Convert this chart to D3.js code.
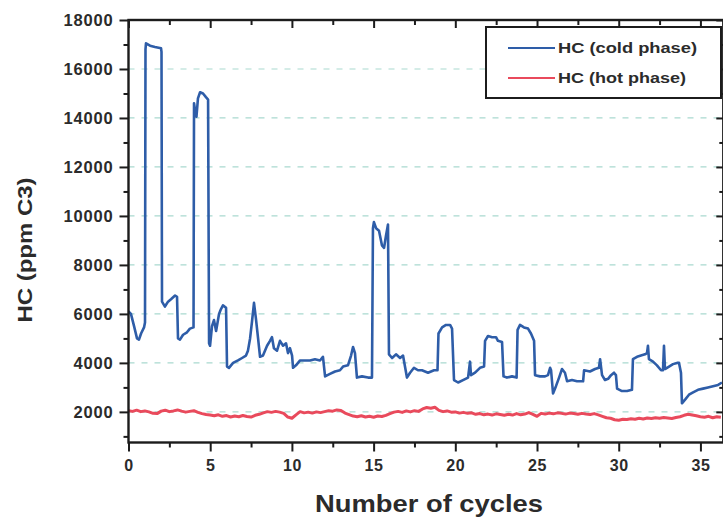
<!DOCTYPE html>
<html><head><meta charset="utf-8">
<script src="https://cdn.jsdelivr.net/npm/d3@7"></script>
<style>body{margin:0;background:#fff;} svg{display:block;}</style>
</head><body>
<svg id="chart" width="723" height="523"></svg>
<script>
// ---- data ----
const coldCycles = [0,0.15,0.34,0.52,0.64,0.77,0.95,1.01,1.04,1.07,1.32,1.62,1.99,2.02,2.05,2.23,2.42,2.60,2.85,2.97,
3.03,3.15,3.34,3.58,3.76,3.98,4.01,4.10,4.16,4.25,4.38,4.56,4.74,4.87,4.93,4.99,5.11,5.23,5.36,5.54,
5.66,5.78,5.97,6.03,6.15,6.40,6.70,6.95,7.19,7.31,7.44,7.56,7.68,7.80,7.93,8.05,8.23,8.48,8.66,8.78,
8.90,9.09,9.27,9.46,9.64,9.76,9.88,10.01,10.07,10.25,10.50,10.80,11.11,11.41,11.72,11.90,12.03,12.33,12.64,12.94,
13.13,13.43,13.62,13.74,13.86,13.98,14.29,14.66,14.90,14.96,15.02,15.15,15.33,15.51,15.64,15.76,15.88,15.94,16.13,16.37,
16.62,16.80,17.04,17.23,17.47,17.72,17.96,18.33,18.70,18.91,18.97,19.19,19.43,19.68,19.80,19.92,20.17,20.47,20.78,20.90,
20.96,21.21,21.51,21.76,21.82,22.00,22.25,22.49,22.61,22.86,22.95,23.16,23.47,23.75,23.81,23.96,24.20,24.45,24.63,24.82,
24.88,25.18,25.49,25.67,25.80,25.86,25.98,26.16,26.35,26.53,26.71,26.84,27.14,27.45,27.82,27.88,28.24,28.55,28.79,28.86,
28.98,29.16,29.35,29.53,29.71,29.83,29.90,30.20,30.51,30.81,30.87,31.12,31.36,31.61,31.73,31.79,31.85,32.10,32.34,32.59,
32.71,32.77,32.83,33.08,33.32,33.57,33.69,33.81,33.87,34.06,34.30,34.55,34.85,35.16,35.46,35.77,36.08,36.32];
const coldHC = [6100,6000,5500,5000,4950,5200,5450,5650,16800,17050,16950,16900,16850,16700,6500,6300,6500,6600,6750,6700,
5000,4950,5150,5250,5400,5450,14600,14200,14050,14800,15050,15000,14850,14750,4800,4700,5500,5750,5300,6000,
6200,6350,6250,3850,3800,4000,4100,4200,4300,4500,5000,5700,6450,5800,5000,4250,4300,4700,4900,5050,
4600,4500,4900,4700,4800,4400,4600,4300,3800,3900,4100,4100,4100,4150,4100,4250,3450,3550,3650,3700,
3850,3900,4300,4650,4400,3400,3450,3400,3400,9500,9750,9500,9400,8800,8700,9200,9650,4350,4200,4350,
4200,4300,3400,3600,3800,3700,3700,3600,3700,3700,5200,5450,5550,5550,5400,3300,3200,3300,3400,4050,
3500,3600,3800,3850,4900,5100,5050,5050,4900,4850,3450,3400,3450,3400,5350,5550,5450,5400,5200,4900,
3500,3450,3450,3500,3800,3700,2750,3050,3400,3750,3600,3250,3300,3250,3250,3700,3650,3750,3800,4150,
3500,3300,3350,3500,3600,3500,2950,2850,2850,2900,4150,4250,4300,4350,4400,4700,4150,4050,3900,3700,
3700,4700,3750,3850,3950,4000,4000,3600,2350,2500,2700,2800,2900,2950,3000,3050,3100,3200];

const hotStart = 0, hotStep = 0.25;   // sampling grid of the hot-phase trace
const hotHC = [2050,2020,2070,2010,2040,2000,1940,1930,2030,2070,2010,2040,2080,2030,1990,2020,2050,1980,1930,1890,
1870,1840,1880,1820,1850,1790,1830,1800,1850,1810,1790,1860,1900,1960,2010,1980,2020,1990,1940,1790,
1740,1880,2010,1960,1990,1950,2000,1970,2010,2050,2030,2080,2060,1950,1890,1830,1800,1840,1790,1820,
1780,1830,1810,1860,1930,1990,2020,1980,2040,2000,2050,2020,2120,2180,2150,2190,2060,2010,2040,1990,
2000,1950,1980,1940,1960,1900,1930,1880,1910,1870,1920,1890,1860,1900,1870,1930,1880,1910,1970,1900,
1820,1940,1910,1950,1920,1960,1940,1910,1950,1930,1900,1940,1910,1890,1930,1880,1820,1760,1740,1680,
1660,1700,1690,1720,1700,1740,1710,1750,1730,1760,1740,1770,1750,1730,1770,1800,1860,1900,1870,1840,
1800,1780,1820,1760,1800,1780];

const yMajorTicks = [2000,4000,6000,8000,10000,12000,14000,16000,18000];
const yMinorTicks = [1000,3000,5000,7000,9000,11000,13000,15000,17000];
const xMajorTicks = [0,5,10,15,20,25,30,35];
const xMinorTicks = [2.5,7.5,12.5,17.5,22.5,27.5,32.5];
const gridValues = [2000,4000,6000,8000,10000,12000,14000,16000];
const seriesNames = ["HC (cold phase)","HC (hot phase)"];
const seriesColors = ["#2e5da8","#e94a5c"];
const xTitle = "Number of cycles";
const yTitle = "HC (ppm C3)";

// ---- drawing ----
const FONT = "'Liberation Sans', Arial, Helvetica, sans-serif";
const TXT = "#2b2b2b";
const svg = d3.select("#chart");
const x = d3.scaleLinear().domain([0, 36.4]).range([128.5, 723.3]);
const y = d3.scaleLinear().domain([750, 18000]).range([442.5, 20]);
const [x0, x1] = x.range(), [yb, yt] = y.range();

svg.append("defs").append("clipPath").attr("id","clip")
  .append("rect").attr("x", x0).attr("y", yt).attr("width", x1 - x0).attr("height", yb - yt);

// grid
svg.append("g").selectAll("line").data(gridValues).join("line")
  .attr("x1", x0).attr("x2", x1).attr("y1", d => y(d)).attr("y2", d => y(d))
  .attr("stroke", "#a9d9cf").attr("stroke-width", 1.2).attr("stroke-dasharray", "6,7");

// series
const coldData = coldCycles.map((c, i) => [c, coldHC[i]]);
const hotData = hotHC.map((v, i) => [hotStart + i * hotStep, v]);
const line = d3.line().x(d => x(d[0])).y(d => y(d[1]));
const plot = svg.append("g").attr("clip-path", "url(#clip)");
plot.append("path").datum(hotData).attr("d", line).attr("fill", "none")
  .attr("stroke", seriesColors[1]).attr("stroke-width", 3).attr("stroke-linejoin", "round");
plot.append("path").datum(coldData).attr("d", line).attr("fill", "none")
  .attr("stroke", seriesColors[0]).attr("stroke-width", 2.6).attr("stroke-linejoin", "round");

// axes
function styleAxis(g, labels) {
  g.select(".domain").remove();
  g.selectAll(".tick line").attr("stroke", "#1c1c1c").attr("stroke-width", 2);
  if (!labels) g.selectAll(".tick text").remove();
  else g.selectAll(".tick text").attr("fill", TXT).attr("font-family", FONT)
    .attr("font-weight", "bold");
}
svg.append("g").attr("transform", `translate(${x0},0)`)
  .call(d3.axisLeft(y).tickValues(yMajorTicks).tickSize(9).tickPadding(6).tickFormat(d3.format("d")))
  .call(g => styleAxis(g, true))
  .call(g => g.selectAll(".tick text").attr("font-size", 16.5).attr("letter-spacing", "0.8px").attr("dy", "0.36em"));
svg.append("g").attr("transform", `translate(${x0},0)`)
  .call(d3.axisLeft(y).tickValues(yMinorTicks).tickSize(5)).call(g => styleAxis(g, false));
svg.append("g").attr("transform", `translate(${x1},0)`)
  .call(d3.axisRight(y).tickValues(yMajorTicks).tickSize(-7)).call(g => styleAxis(g, false));
svg.append("g").attr("transform", `translate(${x1},0)`)
  .call(d3.axisRight(y).tickValues(yMinorTicks).tickSize(-4)).call(g => styleAxis(g, false));

svg.append("g").attr("transform", `translate(0,${yb})`)
  .call(d3.axisBottom(x).tickValues(xMajorTicks).tickSize(9).tickPadding(8).tickFormat(d3.format("d")))
  .call(g => styleAxis(g, true))
  .call(g => g.selectAll(".tick text").attr("font-size", 16).attr("letter-spacing", "0.6px"));
svg.append("g").attr("transform", `translate(0,${yb})`)
  .call(d3.axisBottom(x).tickValues(xMinorTicks).tickSize(5)).call(g => styleAxis(g, false));
svg.append("g").attr("transform", `translate(0,${yt})`)
  .call(d3.axisTop(x).tickValues(xMajorTicks).tickSize(-8)).call(g => styleAxis(g, false));
svg.append("g").attr("transform", `translate(0,${yt})`)
  .call(d3.axisTop(x).tickValues(xMinorTicks).tickSize(-5)).call(g => styleAxis(g, false));

// frame
svg.append("rect").attr("x", x0).attr("y", yt).attr("width", x1 - x0).attr("height", yb - yt)
  .attr("fill", "none").attr("stroke", "#1c1c1c").attr("stroke-width", 2.4);

// titles
svg.append("text").attr("x", 429).attr("y", 512).attr("text-anchor", "middle")
  .attr("font-family", FONT).attr("font-weight", "bold").attr("font-size", 24).attr("fill", TXT)
  .attr("textLength", 228).attr("lengthAdjust", "spacingAndGlyphs").text(xTitle);
svg.append("text").attr("transform", "translate(32,250) rotate(-90)").attr("text-anchor", "middle")
  .attr("font-family", FONT).attr("font-weight", "bold").attr("font-size", 20).attr("fill", TXT)
  .attr("textLength", 145).attr("lengthAdjust", "spacingAndGlyphs").text(yTitle);

// legend
const lg = svg.append("g");
lg.append("rect").attr("x", 486).attr("y", 27).attr("width", 235).attr("height", 71)
  .attr("fill", "#fff").attr("stroke", "#1c1c1c").attr("stroke-width", 2);
seriesNames.forEach((name, i) => {
  const ly = 48 + i * 30;
  lg.append("line").attr("x1", 508).attr("x2", 555).attr("y1", ly).attr("y2", ly)
    .attr("stroke", seriesColors[i]).attr("stroke-width", 2.2);
  lg.append("text").attr("x", 558).attr("y", ly + 5).attr("font-family", FONT)
    .attr("font-weight", "bold").attr("font-size", 14).attr("fill", TXT)
    .attr("textLength", i === 0 ? 139 : 128).attr("lengthAdjust", "spacingAndGlyphs").text(name);
});
</script>
</body></html>
